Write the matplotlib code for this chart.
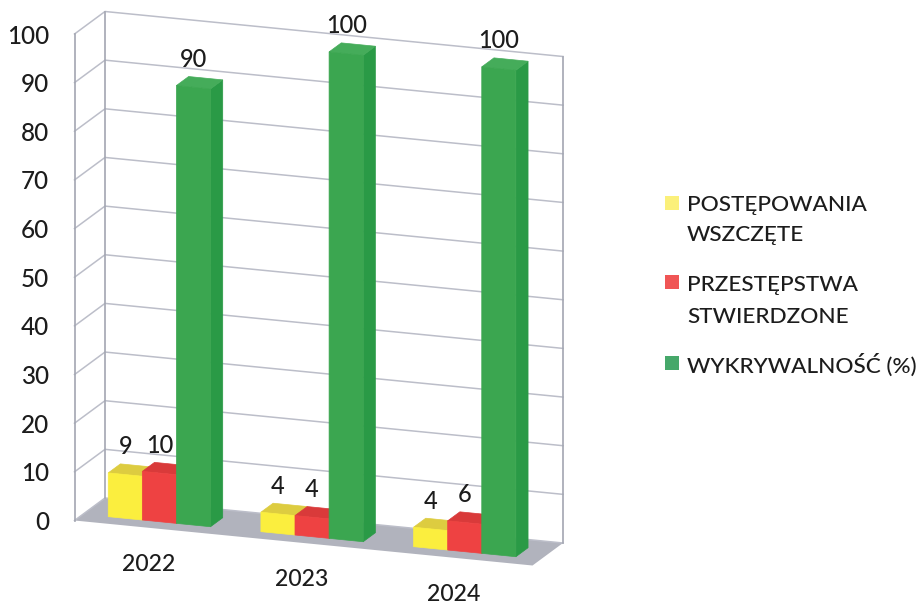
import matplotlib
matplotlib.use("Agg")
import matplotlib.pyplot as plt
from matplotlib.patches import Polygon, Rectangle

plt.rcParams["font.family"] = ["Lato", "DejaVu Sans"]
plt.rcParams["font.weight"] = "medium"

years = ["2022", "2023", "2024"]
postepowania = [9, 4, 4]
przestepstwa = [10, 4, 6]
wykrywalnosc = [90, 100, 100]
y_ticks = [0, 10, 20, 30, 40, 50, 60, 70, 80, 90, 100]

# (front, top, side) colours for each series
series = [
    (postepowania, "#FBEE3E", "#DDCC40", "#E8D93A"),
    (przestepstwa, "#EE4242", "#D93A3A", "#D93A3A"),
    (wykrywalnosc, "#3BA650", "#45AC5A", "#2A9A46"),
]

# oblique projection, measured in pixels on the picture
x0, y0 = 74.5, 520.5
cat_dx, cat_dy = 152.67, 15.0
depth_dx, depth_dy = 30.5, -22.5
unit = 4.865

gap = 0.165     # free space on each side of a group, in category widths
bar_w = (1 - 2 * gap) / 3
d_front, d_back = 0.28, 0.68


def project(x, value, depth=0.0):
    return (x0 + x * cat_dx + depth * depth_dx,
            y0 + x * cat_dy + depth * depth_dy - value * unit)


fig = plt.figure(figsize=(9.17, 6.05), dpi=100)
ax = fig.add_axes([0, 0, 1, 1])
ax.set_xlim(0, 917)
ax.set_ylim(605, 0)
ax.axis("off")

# floor
ax.add_patch(Polygon([project(0, 0, 0), project(0, 0, 1), project(3, 0, 1), project(3, 0, 0)],
                     closed=True, fc="#B1B3BD", ec="none", zorder=1))

# walls
grid_col = "#BCBEC9"
for v in y_ticks:
    xs, ys = zip(project(0, v, 0), project(0, v, 1), project(3, v, 1))
    ax.plot(xs, ys, color=grid_col, lw=1.1, zorder=2)
    ax.text(49, project(0, v, 0)[1] + 2, str(v), ha="right", va="center", fontsize=17.5, color="#1c1c1c")
for x, d in [(0, 0), (0, 1), (3, 1)]:
    xs, ys = zip(project(x, 0, d), project(x, 100, d))
    ax.plot(xs, ys, color="#A3A6B2", lw=1.2, zorder=2)

# bars
z = 3
for i in range(len(years)):
    for j, (vals, front, top, side) in enumerate(series):
        left = i + gap + j * bar_w
        right = left + bar_w
        v = vals[i]
        ax.add_patch(Polygon([project(right, 0, d_front), project(right, 0, d_back),
                              project(right, v, d_back), project(right, v, d_front)],
                             closed=True, fc=side, ec=side, lw=0.5, zorder=z))
        ax.add_patch(Polygon([project(left, v, d_front), project(left, v, d_back),
                              project(right, v, d_back), project(right, v, d_front)],
                             closed=True, fc=top, ec=top, lw=0.5, zorder=z))
        ax.add_patch(Polygon([project(left, 0, d_front), project(left, v, d_front),
                              project(right, v, d_front), project(right, 0, d_front)],
                             closed=True, fc=front, ec=front, lw=0.5, zorder=z + 0.5))
        z += 1
        lx, ly = project(left + bar_w / 2, v + 5.7, d_front)
        ax.text(lx, ly, str(v), ha="center", va="center", fontsize=17, color="#1c1c1c", zorder=50)
    lx, ly = project(i + 0.5, -7.6, 0)
    ax.text(lx - 2, ly, years[i], ha="center", va="center", fontsize=16.6, color="#1c1c1c", zorder=50)

# legend
legend_rows = [
    ("#FBF07A", 196, ["POSTĘPOWANIA", "WSZCZĘTE"], [205, 235]),
    ("#F05555", 275, ["PRZESTĘPSTWA", "STWIERDZONE"], [285, 317]),
    ("#46A86A", 356, ["WYKRYWALNOŚĆ (%)"], [365]),
]
for col, top, lines, ys in legend_rows:
    ax.add_patch(Rectangle((665, top), 14, 14, fc=col, ec="none"))
    for line, y in zip(lines, ys):
        ax.text(687, y, line, ha="left", va="center", fontsize=16.2, color="#1c1c1c")

fig.savefig("out.png", dpi=100)
